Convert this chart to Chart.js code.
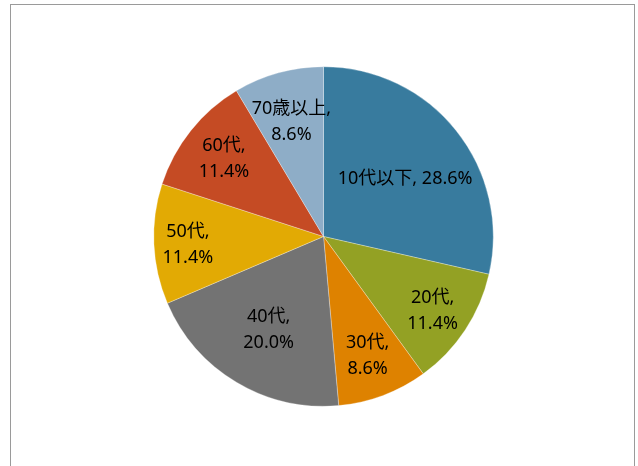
<!DOCTYPE html>
<html>
<head>
    <meta charset="utf-8">
    <title>年代別構成比</title>
    <script src="https://cdn.jsdelivr.net/npm/chart.js@4"></script>
    <style>
        body { margin: 0; background: #fff; }
        .frame {
            position: absolute;
            left: 10px; top: 4px;
            width: 625px; height: 480px;
            border: 1px solid #9a9a9a;
            box-sizing: border-box;
        }
        #pieChart { position: absolute; left: 0; top: 0; }
    </style>
</head>
<body>
    <div class="frame"></div>
    <canvas id="pieChart" width="638" height="466"></canvas>

    <script>
        const labels = ['10代以下', '20代', '30代', '40代', '50代', '60代', '70歳以上'];
        const counts = [10, 4, 3, 7, 4, 4, 3];
        const percents = ['28.6%', '11.4%', '8.6%', '20.0%', '11.4%', '11.4%', '8.6%'];
        const colors = ['#387B9E', '#93A124', '#DE8200', '#737373', '#E2AA04', '#C54B24', '#8EADC7'];

        // labels drawn inside slices, "name," on first line and percent on second
        const sliceLabels = {
            id: 'sliceLabels',
            afterDatasetsDraw(chart) {
                const c = chart.ctx;
                const meta = chart.getDatasetMeta(0);
                c.save();
                c.fillStyle = '#000';
                c.font = '18px "Noto Sans", "Noto Sans CJK JP", sans-serif';
                c.textAlign = 'center';
                c.textBaseline = 'middle';
                meta.data.forEach((arc, i) => {
                    const p = arc.getProps(['x', 'y', 'startAngle', 'endAngle', 'outerRadius']);
                    const mid = (p.startAngle + p.endAngle) / 2;
                    const f = [0.6, 0.77, 0.74, 0.63, 0.8, 0.75, 0.71][i];
                    const x = p.x + Math.cos(mid) * p.outerRadius * f;
                    const y = p.y + Math.sin(mid) * p.outerRadius * f + 2;
                    if (i === 0) {
                        c.fillText(labels[i] + ', ' + percents[i], x + 2, y + 4);
                    } else {
                        c.fillText(labels[i] + ',', x, y - 13);
                        c.fillText(percents[i], x, y + 13);
                    }
                });
                c.restore();
            }
        };

        new Chart(document.getElementById('pieChart'), {
            type: 'pie',
            data: {
                labels: labels,
                datasets: [{
                    data: counts,
                    backgroundColor: colors,
                    borderColor: 'rgba(255,255,255,0.6)',
                    borderWidth: 0.5
                }]
            },
            options: {
                responsive: false,
                animation: false,
                layout: { padding: { left: 153.5, right: 144.5, top: 66.5, bottom: 59.5 } },
                plugins: {
                    legend: { display: false },
                    tooltip: { enabled: false }
                }
            },
            plugins: [sliceLabels]
        });
    </script>
</body>
</html>
